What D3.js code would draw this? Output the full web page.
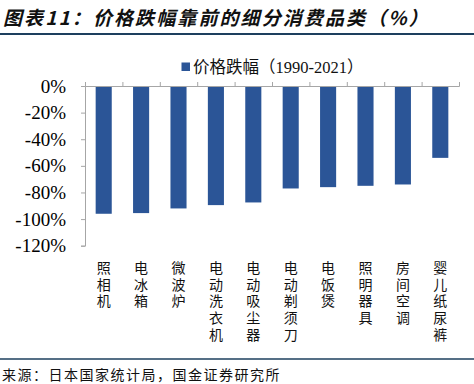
<!DOCTYPE html>
<html>
<head>
<meta charset="utf-8">
<script src="https://cdn.jsdelivr.net/npm/d3@7"></script>
<style>
  body { margin: 0; background: #fff; }
  svg { display: block; }
</style>
</head>
<body>
<script>
// categories and values (price change 1990-2021, %)
const categories = ["照相机", "电冰箱", "微波炉", "电动洗衣机", "电动吸尘器", "电动剃须刀", "电饭煲", "照明器具", "房间空调", "婴儿纸尿裤"];
const values = [-96, -95.5, -92, -89.5, -87.5, -77, -76, -75, -74, -54];
const yTicks = [0, -20, -40, -60, -80, -100, -120];
const seriesName = "价格跌幅（1990-2021）";

const width = 474, height = 384;
const marginLeft = 85, marginRight = 15, marginTop = 86, plotBottom = 245.7;

const cjk = "'Liberation Serif', 'Noto Sans CJK SC', serif";

const svg = d3.select("body").append("svg")
    .attr("width", width)
    .attr("height", height);

// title
svg.append("text")
    .attr("x", 3)
    .attr("y", 25)
    .attr("font-family", "'Noto Sans CJK SC', sans-serif")
    .attr("font-weight", "bold")
    .attr("font-style", "italic")
    .attr("font-size", 19)
    .attr("letter-spacing", 2.1)
    .attr("fill", "#111")
    .text("图表11：价格跌幅靠前的细分消费品类（%）");

svg.append("line")
    .attr("x1", 0).attr("x2", width)
    .attr("y1", 34).attr("y2", 34)
    .attr("stroke", "#1d3f5e")
    .attr("stroke-width", 2);

// legend
svg.append("rect")
    .attr("x", 181.5).attr("y", 62.5)
    .attr("width", 8.5).attr("height", 8.5)
    .attr("fill", "#2b5597");
svg.append("text")
    .attr("x", 193).attr("y", 72.5)
    .attr("font-family", cjk)
    .attr("font-size", 16.5)
    .attr("fill", "#111")
    .text(seriesName);

// scales
const x = d3.scaleBand()
    .domain(categories)
    .range([marginLeft, width - marginRight])
    .paddingInner(0.57)
    .paddingOuter(0.285);

const xTickScale = d3.scaleLinear()
    .domain([0, categories.length])
    .range([marginLeft, width - marginRight]);

const y = d3.scaleLinear()
    .domain([0, -120])
    .range([marginTop, plotBottom]);

// bars
svg.append("g")
    .attr("fill", "#2b5597")
    .selectAll("rect")
    .data(values)
    .join("rect")
    .attr("x", (d, i) => x(categories[i]))
    .attr("y", y(0))
    .attr("width", x.bandwidth())
    .attr("height", d => y(d) - y(0));

// y axis
const yAxis = svg.append("g")
    .attr("transform", `translate(${marginLeft},0)`)
    .call(d3.axisLeft(y).tickValues(yTicks).tickSize(4).tickFormat(d => d + "%"));
yAxis.select(".domain").attr("stroke", "#a6a6a6");
yAxis.selectAll(".tick line").attr("stroke", "#a6a6a6");
yAxis.selectAll(".tick text")
    .attr("x", -19)
    .attr("font-family", "'Liberation Serif', serif")
    .attr("font-size", 19)
    .attr("fill", "#000");

// x axis line at zero with upward tick marks between categories
const xAxis = svg.append("g")
    .attr("transform", `translate(0,${y(0)})`)
    .call(d3.axisTop(xTickScale).tickValues(d3.range(categories.length + 1)).tickSize(4).tickFormat(""));
xAxis.select(".domain").attr("stroke", "#a6a6a6");
xAxis.selectAll(".tick line").attr("stroke", "#a6a6a6");

// vertical category labels, one character per line
const chars = categories.flatMap(c => Array.from(c).map((ch, j) => ({ cat: c, ch, j })));
svg.append("g")
    .selectAll("text")
    .data(chars)
    .join("text")
    .attr("x", d => x(d.cat) + x.bandwidth() / 2)
    .attr("y", d => 273 + d.j * 16.7)
    .attr("font-family", "'Noto Sans CJK SC', sans-serif")
    .attr("font-size", 14)
    .attr("fill", "#111")
    .attr("text-anchor", "middle")
    .text(d => d.ch);

// bottom rule and source
svg.append("line")
    .attr("x1", 0).attr("x2", width)
    .attr("y1", 359).attr("y2", 359)
    .attr("stroke", "#1d3f5e")
    .attr("stroke-width", 1.5);

svg.append("text")
    .attr("x", 2)
    .attr("y", 380)
    .attr("font-family", "'Noto Sans CJK SC', sans-serif")
    .attr("font-size", 14)
    .attr("letter-spacing", 1.5)
    .attr("fill", "#111")
    .text("来源：日本国家统计局，国金证券研究所");
</script>
</body>
</html>
